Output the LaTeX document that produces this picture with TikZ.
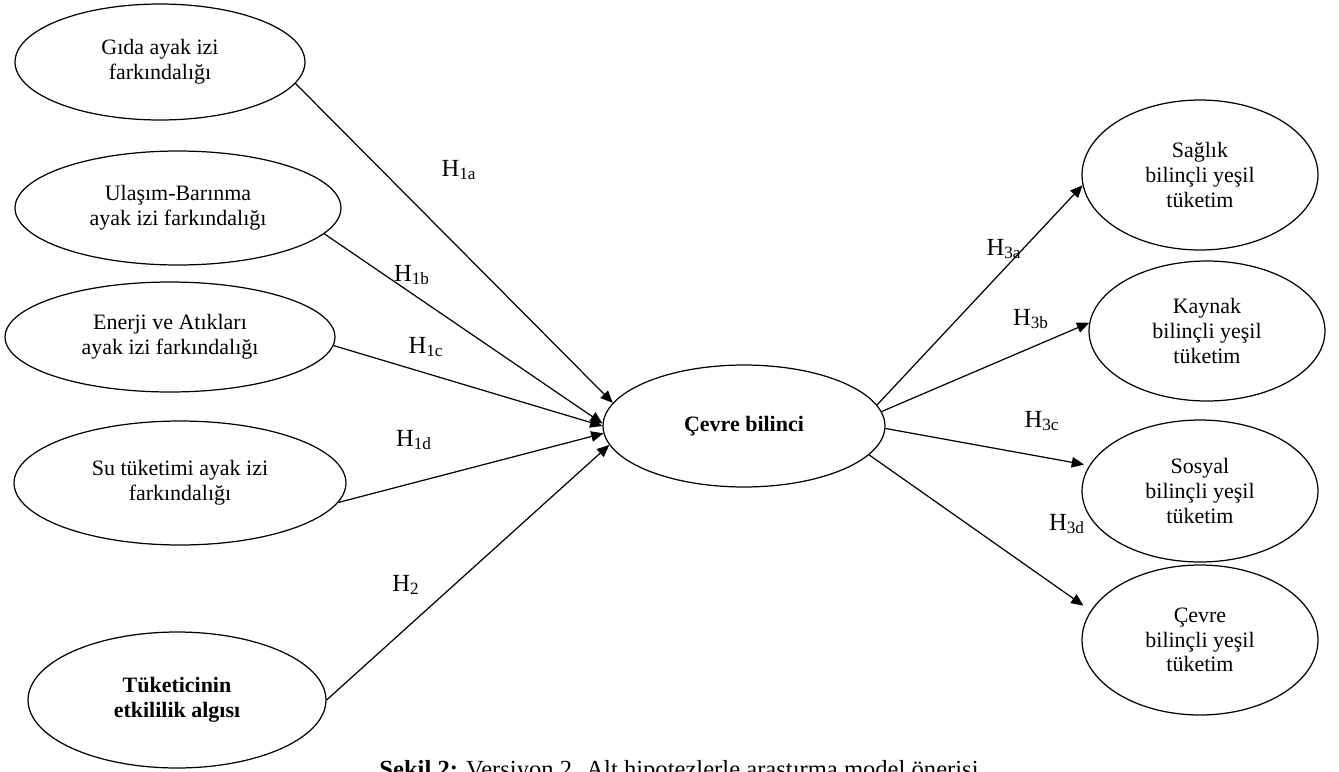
\documentclass[tikz,border=0pt]{standalone}
\usepackage{fontspec}
\setmainfont{Liberation Serif}
\usepackage{tikz}
\usetikzlibrary{shapes.geometric, arrows.meta}

\begin{document}
\begin{tikzpicture}[x=0.02cm, y=-0.02cm,
    construct/.style={draw, ellipse, line width=0.7pt, inner sep=0pt, align=center,
      font=\fontsize{12.5}{14}\selectfont},
    hyp/.style={line width=0.7pt, -{Triangle[length=7pt, width=6pt]}},
    hyplabel/.style={inner sep=0pt, font=\fontsize{14}{16}\selectfont}]
  \useasboundingbox (0,0) rectangle (1339,771);
  \clip (0,0) rectangle (1339,771);
  % left side
  \node[construct, minimum width=5.8cm, minimum height=2.32cm] (gida) at (160,62) {Gıda ayak izi\\farkındalığı};
  \node[construct, minimum width=6.52cm, minimum height=2.28cm] (ulasim) at (178,208) {Ulaşım-Barınma\\ayak izi farkındalığı};
  \node[construct, minimum width=6.6cm, minimum height=2.2cm] (enerji) at (170,337) {Enerji ve Atıkları\\ayak izi farkındalığı};
  \node[construct, minimum width=6.64cm, minimum height=2.48cm] (su) at (180,483) {Su tüketimi ayak izi\\farkındalığı};
  \node[construct, minimum width=5.96cm, minimum height=2.72cm] (tuket) at (177,700) {\textbf{Tüketicinin}\\\textbf{etkililik algısı}};
  % middle
  \node[construct, minimum width=5.64cm, minimum height=2.44cm] (cevre) at (744,426) {\textbf{Çevre bilinci}};
  % right side
  \node[construct, minimum width=4.72cm, minimum height=3cm] (saglik) at (1200,175) {Sağlık\\bilinçli yeşil\\tüketim};
  \node[construct, minimum width=4.72cm, minimum height=2.8cm] (kaynak) at (1207,331) {Kaynak\\bilinçli yeşil\\tüketim};
  \node[construct, minimum width=4.72cm, minimum height=2.84cm] (sosyal) at (1200,491) {Sosyal\\bilinçli yeşil\\tüketim};
  \node[construct, minimum width=4.72cm, minimum height=3cm] (cevreyesil) at (1200,640) {Çevre\\bilinçli yeşil\\tüketim};

  % hypotheses H1, H2
  \draw[hyp] (gida.-9) -- (cevre.170);
  \draw[hyp] (ulasim.-10) -- (cevre.179);
  \draw[hyp] (enerji.-3) -- (cevre.180);
  \draw[hyp] (su.-7) -- (cevre.183);
  \draw[hyp] (tuket.0) -- (cevre.188);
  % hypotheses H3
  \draw[hyp] (cevre.9) -- (saglik.185);
  \draw[hyp] (cevre.6) -- (kaynak.176);
  \draw[hyp, shorten >=3pt] (cevre.-1) -- (sosyal.167);
  \draw[hyp, shorten >=5pt] (cevre.-13) -- (cevreyesil.165);

  \node[hyplabel] (h1a) at (459,170) {H\textsubscript{1a}};
  \node[hyplabel] (h1b) at (412,275) {H\textsubscript{1b}};
  \node[hyplabel] (h1c) at (426,347) {H\textsubscript{1c}};
  \node[hyplabel] (h1d) at (414,440) {H\textsubscript{1d}};
  \node[hyplabel] (h2) at (406,585) {H\textsubscript{2}};
  \node[hyplabel] (h3a) at (1004,249) {H\textsubscript{3a}};
  \node[hyplabel] (h3b) at (1031,319) {H\textsubscript{3b}};
  \node[hyplabel] (h3c) at (1042,421) {H\textsubscript{3c}};
  \node[hyplabel] (h3d) at (1067,524) {H\textsubscript{3d}};

  % caption, cut by the page edge
  \node[anchor=base, inner sep=0pt, font=\fontsize{14}{16}\selectfont] (caption) at (679,777)
    {\textbf{Şekil 2:} Versiyon 2. Alt hipotezlerle araştırma model önerisi};
\end{tikzpicture}
\end{document}
